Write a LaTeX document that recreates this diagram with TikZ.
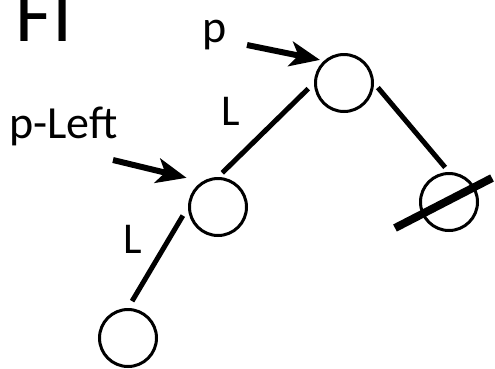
\documentclass[tikz,border=0pt]{standalone}
\usepackage{fontspec}
\setmainfont{Carlito}
\usetikzlibrary{arrows.meta,calc}
\begin{document}
\begin{tikzpicture}[x=1pt,y=-1pt,
        nd/.style={circle,draw,line width=3pt,minimum size=57pt,inner sep=0pt},
        edge/.style={line width=5pt},
        arr/.style={line width=6pt,-{Stealth[length=30pt,width=25pt,inset=8pt]}},
        lbl/.style={font=\fontsize{44}{44}\selectfont,inner sep=0pt,anchor=base west}]
                \useasboundingbox(0,0)rectangle(495,368);
                \node[nd](P)at(344,83){};
                \node[nd](PL)at(218,207){};
                \node[nd](PLL)at(128,338){};
                \node[nd](PR)at(449,202){};
                \coordinate(PT)at(247,45);
                \coordinate(PLT)at(113,160);
                \coordinate(CA)at($(PR)+(-54,26)$);
                \coordinate(CB)at($(PR)+(43,-24)$);
                \draw[edge,shorten <=8pt,shorten >=6pt](P.west)--(PL.north);
                \draw[edge,shorten <=6pt,shorten >=6pt](P.east)--(PR.north);
                \draw[edge,shorten <=10pt,shorten >=8pt](PL.west)--(PLL.north);
                \draw[line width=8pt](CA)--(CB);
                \draw[arr,shorten >=4pt](PT)--(P.132);
                \draw[arr,shorten >=16pt](PLT)--(PL.122);
                \node[lbl,font=\fontsize{80}{80}\selectfont](FI)at(15.5,41){FI};
                \node[lbl,font=\fontsize{46}{46}\selectfont](Pname)at(202,42){p};
                \node[lbl,font=\fontsize{46}{46}\selectfont](PLname)at(9,138){p-Left};
                \node[lbl](L1)at(221,125){L};
                \node[lbl](L2)at(123,253){L};
            \end{tikzpicture}
\end{document}
